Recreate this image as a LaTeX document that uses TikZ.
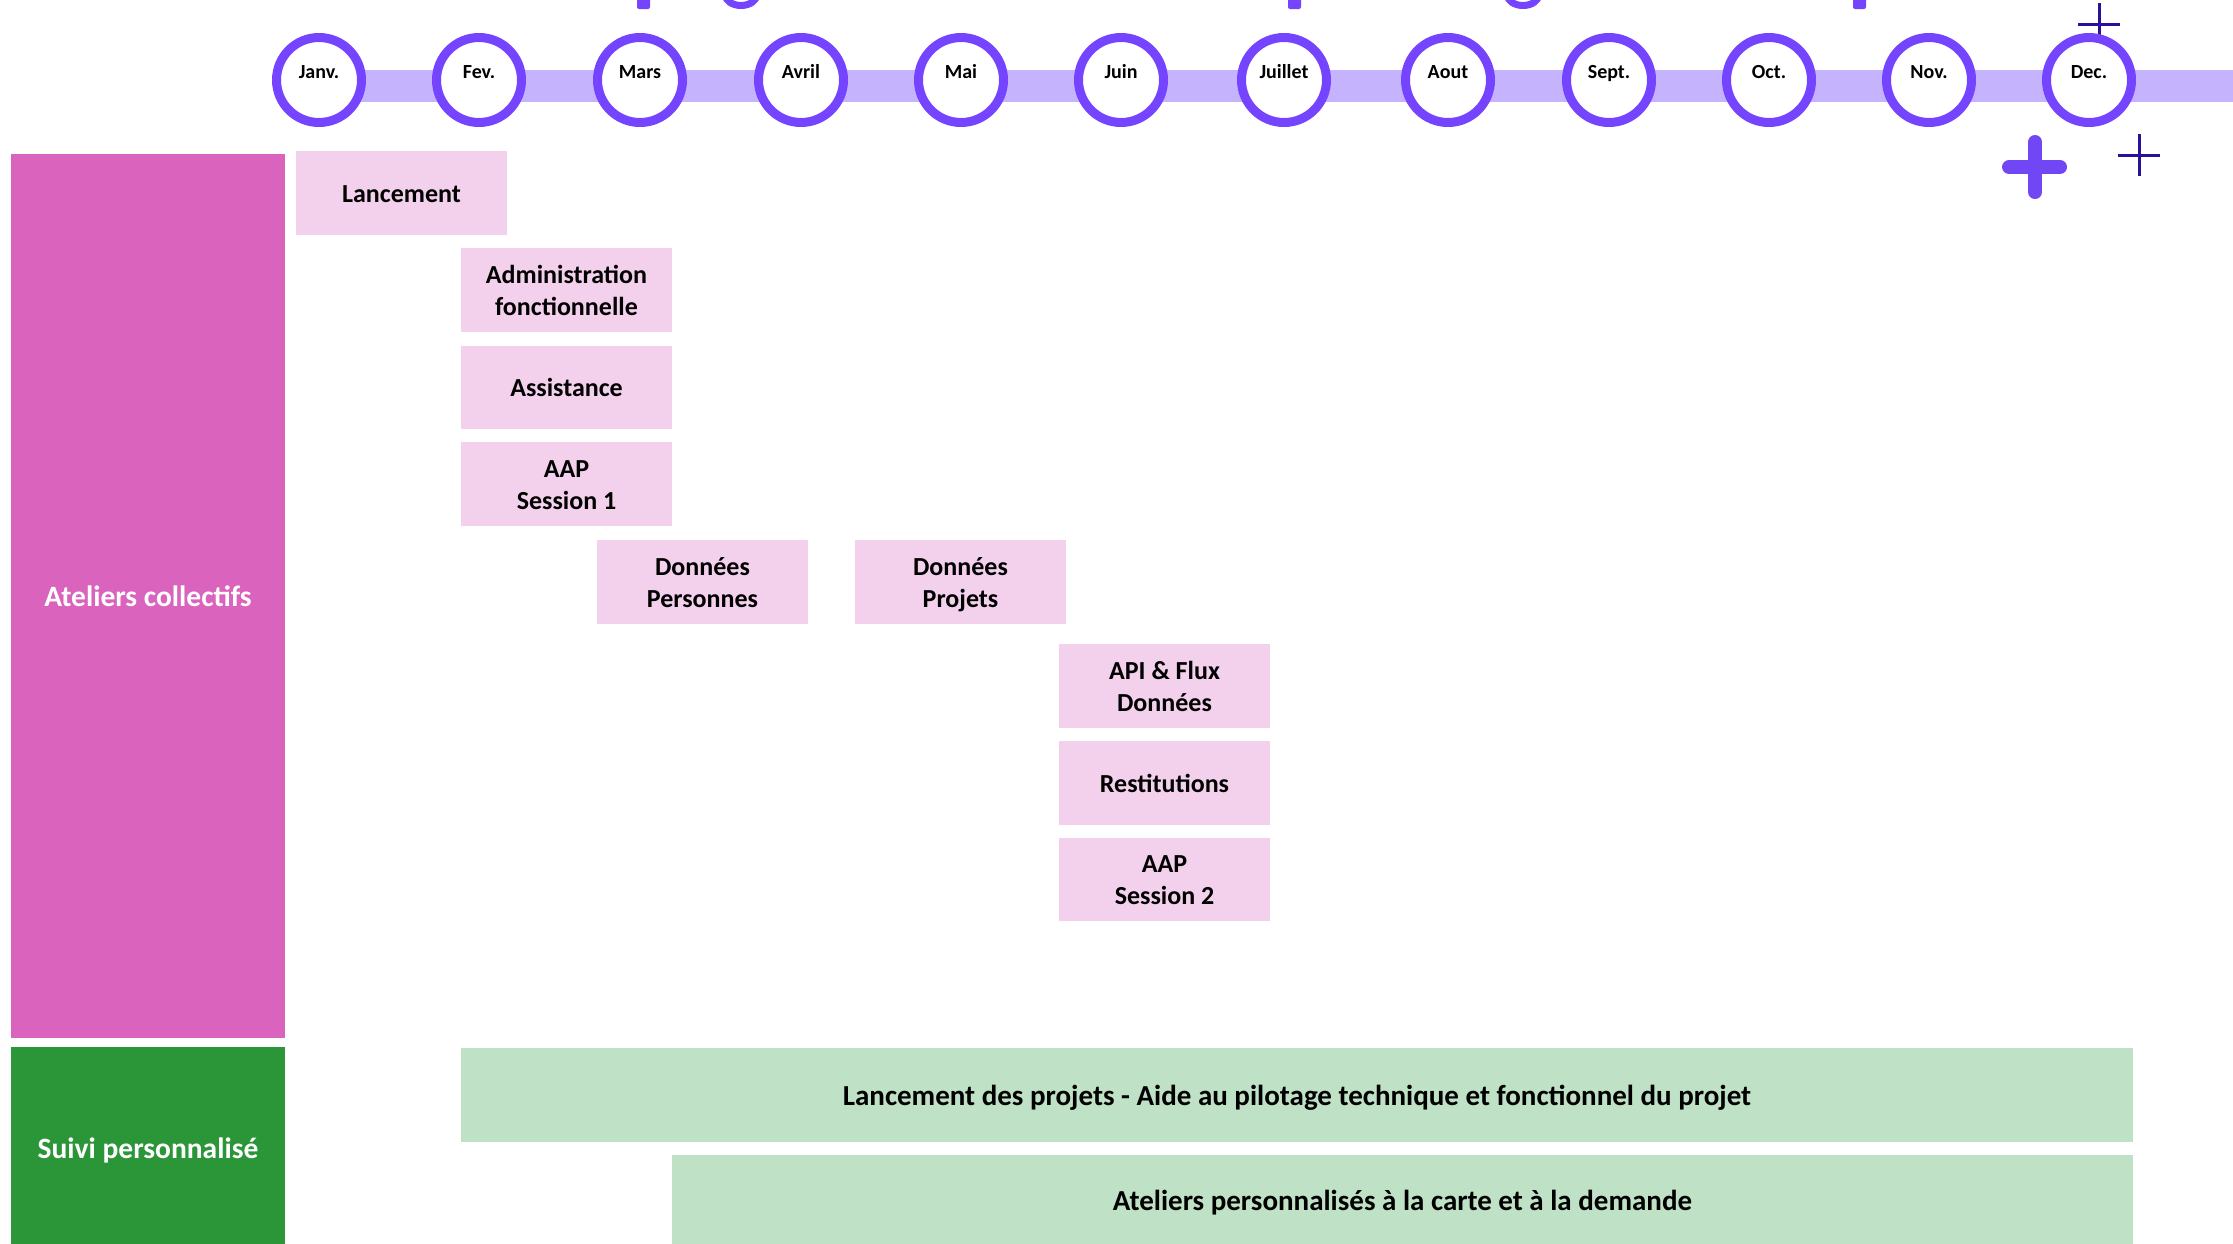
\documentclass[tikz,border=0pt]{standalone}
\usepackage{fontspec}
\setmainfont{Carlito}
\setlength{\lineskiplimit}{-100pt}
\setlength{\normallineskiplimit}{-100pt}
\definecolor{ringc}{HTML}{7444FF}
\definecolor{barc}{HTML}{C5B4FD}
\definecolor{pinkdark}{HTML}{D963BD}
\definecolor{pinklight}{HTML}{F3D0EC}
\definecolor{greendark}{HTML}{2A9638}
\definecolor{greenlight}{HTML}{BFE1C5}
\definecolor{plusdark}{HTML}{2B109C}
\definecolor{plusbig}{HTML}{7046F5}
\newcommand\tstrut{\rule[-5.8pt]{0pt}{30.5pt}}
\newcommand\gstrut{\rule[-6.5pt]{0pt}{33.5pt}}
\tikzset{
  month/.style={circle, draw=ringc, line width=9pt, fill=white, minimum size=85pt, inner sep=0pt},
  monthtxt/.style={anchor=base, font=\bfseries\fontsize{20}{24}\selectfont, inner sep=0pt},
  task/.style={fill=pinklight, inner sep=0pt, minimum width=211pt, minimum height=84pt, align=center,
     font=\bfseries\fontsize{26}{32}\selectfont},
  lane/.style={inner sep=0pt, align=center, text=white, font=\bfseries\fontsize{29.5}{34}\selectfont},
  gtask/.style={fill=greenlight, inner sep=0pt, align=center, font=\bfseries\fontsize{29}{34}\selectfont},
  thinplus/.style={draw=plusdark, line width=3pt},
  bigplus/.style={draw=plusbig, line width=14pt, line cap=round},
  titleink/.style={fill=ringc}
}
\begin{document}
\begin{tikzpicture}[x=1pt,y=-1pt]
\useasboundingbox (0,0) rectangle (2233,1243);
\clip (0,0) rectangle (2233,1243);
% cut-off title descenders
\fill[titleink, rounded corners=2pt] (637,-10) rectangle (650,9);
\fill[titleink, rounded corners=2pt] (1288,-10) rectangle (1301,9);
\fill[titleink, rounded corners=2pt] (1853,-10) rectangle (1866,9);
\draw[ringc, line width=7pt] (741,-5) ellipse [x radius=15.5pt, y radius=10.5pt];
\draw[ringc, line width=7pt] (1523,-5) ellipse [x radius=15.5pt, y radius=10.5pt];
% timeline bar
\fill[barc] (319,70) rectangle (2240,102);
% top plus (behind Dec circle)
\draw[thinplus] (2099,3) -- (2099,45);
\draw[thinplus] (2078,24) -- (2120,24);
% months
\foreach \n/\x/\t in {m1/319/Janv., m2/479/Fev., m3/640/Mars, m4/801/Avril, m5/961/Mai, m6/1121/Juin,
  m7/1284/Juillet, m8/1448/Aout, m9/1609/Sept., m10/1769/Oct., m11/1929/Nov., m12/2089/Dec.}{
  \node[month] (\n) at (\x,80) {};
  \node[monthtxt] (\n t) at (\x,78) {\t};
}
% pluses below
\draw[bigplus] (2035,142) -- (2035,192);
\draw[bigplus] (2009,167) -- (2060,167);
\draw[thinplus] (2139,134) -- (2139,176);
\draw[thinplus] (2118,155) -- (2160,155);
% lanes
\node[lane, fill=pinkdark, minimum width=274pt, minimum height=884pt] (ac) at (148,596) {\gstrut Ateliers collectifs};
\node[lane, fill=greendark, minimum width=274pt, minimum height=202pt] (sp) at (148,1148) {\gstrut Suivi personnalisé};
% tasks
\node[task] (lanc) at (401.5,193) {\tstrut Lancement};
\node[task] (admin) at (566.5,290) {\tstrut Administration\\\tstrut fonctionnelle};
\node[task, minimum height=83pt] (assist) at (566.5,387.5) {\tstrut Assistance};
\node[task] (aap1) at (566.5,484) {\tstrut AAP\\\tstrut Session 1};
\node[task] (dpers) at (702.5,582) {\tstrut Données\\\tstrut Personnes};
\node[task] (dproj) at (960.5,582) {\tstrut Données\\\tstrut Projets};
\node[task] (api) at (1164.5,686) {\tstrut API \& Flux\\\tstrut Données};
\node[task] (rest) at (1164.5,783) {\tstrut Restitutions};
\node[task, minimum height=83pt] (aap2) at (1164.5,879.5) {\tstrut AAP\\\tstrut Session 2};
% green tasks
\node[gtask, minimum width=1672pt, minimum height=94pt] (g1) at (1297,1095) {\gstrut Lancement des projets - Aide au pilotage technique et fonctionnel du projet};
\node[gtask, minimum width=1461pt, minimum height=90pt] (g2) at (1402.5,1200) {\gstrut Ateliers personnalisés à la carte et à la demande};
\end{tikzpicture}
\end{document}
